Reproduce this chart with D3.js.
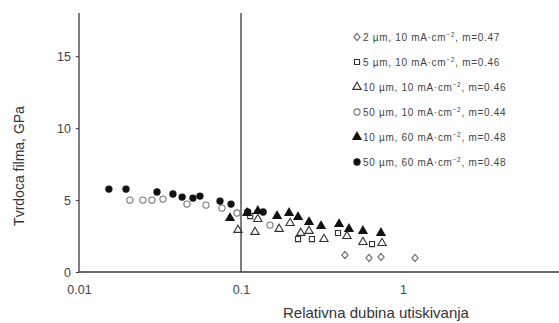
<!DOCTYPE html>
<html>
<head>
<meta charset="utf-8">
<script src="https://cdn.jsdelivr.net/npm/d3@7"></script>
<style>
  html, body { margin: 0; padding: 0; background: #fff; }
  svg { display: block; font-family: "Liberation Sans", Arial, sans-serif; }
</style>
</head>
<body>
<svg id="chart" width="559" height="323"></svg>
<script>
// Hardness of the film vs. relative indentation depth, six deposition series.
const seriesNames = ["d2_10", "d5_10", "d10_10", "d50_10", "d10_60", "d50_60"];
const seriesThickness = ["2", "5", "10", "50", "10", "50"];
const seriesCurrent = ["10", "10", "10", "10", "60", "60"];
const seriesExponent = ["0.47", "0.46", "0.46", "0.44", "0.48", "0.48"];
const seriesSymbols = ["diamond", "square", "triangle", "circle", "triangle", "circle"];
const seriesFilled = [false, false, false, false, true, true];

// relative depth (x) and hardness in GPa (y) for each series
const d2_10_x = [0.438, 0.617, 0.731, 1.186];
const d2_10_y = [1.18, 0.97, 1.04, 0.97];

const d5_10_x = [0.114, 0.225, 0.274, 0.397, 0.644];
const d5_10_y = [3.89, 2.29, 2.29, 2.71, 1.94];

const d10_10_x = [0.0958, 0.122, 0.127, 0.172, 0.201, 0.234, 0.263, 0.325, 0.451, 0.566, 0.742];
const d10_10_y = [2.92, 2.78, 3.68, 2.99, 3.40, 2.71, 2.85, 2.29, 2.50, 2.08, 2.01];

const d50_10_x = [0.0206, 0.0248, 0.0282, 0.033, 0.0464, 0.0608, 0.0763, 0.0945, 0.151];
const d50_10_y = [5.00, 5.00, 5.00, 5.07, 4.72, 4.65, 4.44, 4.10, 3.26];

const d10_60_x = [0.0855, 0.109, 0.127, 0.167, 0.198, 0.225, 0.263, 0.312, 0.403, 0.464, 0.566, 0.731];
const d10_60_y = [3.75, 4.10, 4.24, 3.89, 4.10, 3.82, 3.47, 3.19, 3.33, 2.99, 2.85, 2.71];

const d50_60_x = [0.0153, 0.0195, 0.0303, 0.038, 0.0433, 0.0505, 0.0558, 0.0742, 0.0868, 0.110, 0.137];
const d50_60_y = [5.76, 5.76, 5.56, 5.42, 5.21, 5.14, 5.28, 4.93, 4.72, 4.17, 4.17];

const xTickValues = [0.01, 0.1, 1];
const xTickLabels = ["0.01", "0.1", "1"];
const yTickValues = [0, 5, 10, 15];
const referenceDepth = 0.1;

const xTitle = "Relativna dubina utiskivanja";
const yTitle = "Tvrdoca filma, GPa";

const dataX = { d2_10: d2_10_x, d5_10: d5_10_x, d10_10: d10_10_x, d50_10: d50_10_x, d10_60: d10_60_x, d50_60: d50_60_x };
const dataY = { d2_10: d2_10_y, d5_10: d5_10_y, d10_10: d10_10_y, d50_10: d50_10_y, d10_60: d10_60_y, d50_60: d50_60_y };

const svg = d3.select("#chart");
const axisColor = "#3a3a3a";
const textColor = "#444";

const x = d3.scaleLog().domain([0.01, 10]).range([79, 565]);
const y = d3.scaleLinear().domain([0, 18]).range([272, 13]);

// axes
const yAxis = d3.axisLeft(y).tickValues(yTickValues).tickSize(3).tickFormat(d3.format("d"));
const gy = svg.append("g").attr("transform", `translate(${x(0.01)},0)`).call(yAxis);
gy.select(".domain").attr("stroke", axisColor).attr("stroke-width", 1.3).attr("d", `M0,${y(0)}V${y(18)}`);
gy.selectAll(".tick line").attr("stroke", axisColor);
gy.selectAll(".tick text").attr("fill", textColor).attr("font-size", 12.5).attr("x", -8)
  .attr("font-family", "Liberation Sans, Arial, sans-serif");

const xAxis = d3.axisBottom(x).tickValues(xTickValues).tickSize(0)
  .tickFormat((d, i) => xTickLabels[i]);
const gx = svg.append("g").attr("transform", `translate(0,${y(0)})`).call(xAxis);
gx.select(".domain").attr("stroke", axisColor).attr("stroke-width", 1.3).attr("d", `M${x(0.01)},0H${x(9.2)}`);
gx.selectAll(".tick text").attr("fill", textColor).attr("font-size", 12.5).attr("dy", "1.55em")
  .attr("font-family", "Liberation Sans, Arial, sans-serif");

// vertical reference line at relative depth 0.1
svg.append("line")
  .attr("x1", x(referenceDepth)).attr("x2", x(referenceDepth))
  .attr("y1", y(0)).attr("y2", y(18))
  .attr("stroke", axisColor).attr("stroke-width", 1.3);

// axis titles
svg.append("text")
  .attr("x", 376).attr("y", 318)
  .attr("text-anchor", "middle")
  .attr("font-size", 15).attr("fill", "#333")
  .text(xTitle);

svg.append("text")
  .attr("transform", "translate(24,166) rotate(-90)")
  .attr("text-anchor", "middle")
  .attr("font-size", 14).attr("fill", "#333")
  .text(yTitle);

// marker symbols
const symbolTypes = {
  diamond: d3.symbolDiamond,
  square: d3.symbolSquare,
  triangle: d3.symbolTriangle,
  circle: d3.symbolCircle
};
const symbolSizes = { diamond: 20, square: 26, triangle: 30, circle: 30 };

function drawMarker(g, idx, cx, cy) {
  const sym = seriesSymbols[idx];
  const filled = seriesFilled[idx];
  g.append("path")
    .attr("transform", `translate(${cx},${cy})` + (sym === "diamond" ? " scale(1.3,0.85)" : ""))
    .attr("d", d3.symbol().type(symbolTypes[sym]).size(symbolSizes[sym])())
    .attr("fill", filled ? "#111" : "none")
    .attr("stroke", filled ? "#111" : (sym === "circle" || sym === "diamond" ? "#777" : "#333"))
    .attr("stroke-width", 1.1);
}

const plot = svg.append("g");
seriesNames.forEach((name, idx) => {
  const xs = dataX[name], ys = dataY[name];
  xs.forEach((xv, j) => drawMarker(plot, idx, x(xv), y(ys[j])));
});

// legend
const legend = svg.append("g");
seriesNames.forEach((name, idx) => {
  const ly = 37 + idx * 25;
  drawMarker(legend, idx, 357, ly);
  const t = legend.append("text")
    .attr("x", 363).attr("y", ly + 3.5)
    .attr("font-size", 10).attr("letter-spacing", 0.7).attr("fill", "#444");
  t.append("tspan").text(`${seriesThickness[idx]} \u00b5m, ${seriesCurrent[idx]} mA\u00b7cm`);
  t.append("tspan").attr("font-size", 6.5).attr("dy", -4).text("\u22122");
  t.append("tspan").attr("dy", 4).text(`, m=${seriesExponent[idx]}`);
});
</script>
</body>
</html>
